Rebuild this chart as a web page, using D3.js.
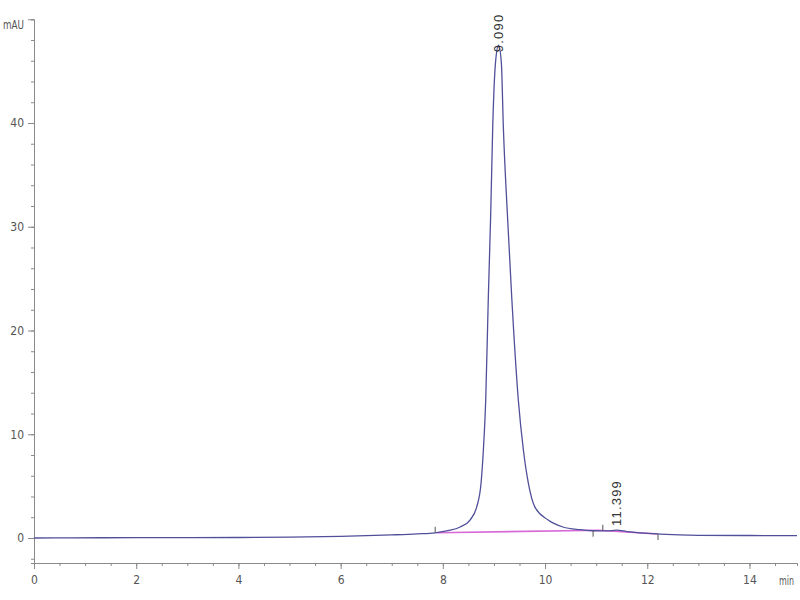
<!DOCTYPE html>
<html>
<head>
<meta charset="utf-8">
<script src="https://cdn.jsdelivr.net/npm/d3@7"></script>
<style>
  html, body { margin: 0; padding: 0; background: #fff; }
  svg { display: block; }
  .ax text { font-family: "Liberation Sans Narrow", "DejaVu Sans Condensed", "Liberation Sans", sans-serif; font-size: 12px; fill: #555; }
  .ax path, .ax line { stroke: #8a8a8a; }
</style>
</head>
<body>
<svg id="chart" width="800" height="600"></svg>
<script>
// ---- data ----
const times = [0.0, 0.7, 2.0, 4.0, 5.0, 6.0, 7.0, 7.5, 7.85, 8.1, 8.34, 8.532, 8.663, 8.748, 8.793, 8.839, 8.89, 8.937, 8.976, 9.03, 9.09, 9.145, 9.184, 9.262, 9.348, 9.477, 9.576, 9.673, 9.80, 10.06, 10.35, 10.68, 10.94, 11.2, 11.4, 11.6, 12.25, 13.0, 14.0, 14.93];
const signal = [0.0, 0.02, 0.03, 0.05, 0.08, 0.15, 0.3, 0.4, 0.5, 0.7, 1.06, 1.73, 3.0, 5.3, 8.48, 13.3, 23.2, 31.3, 39.6, 45.8, 47.5, 45.8, 39.6, 31.3, 23.2, 13.3, 8.48, 5.3, 3.0, 1.73, 1.06, 0.8, 0.7, 0.68, 0.75, 0.62, 0.38, 0.26, 0.24, 0.23];
const baselineTimes = [7.88, 11.05, 12.2];
const baselineValues = [0.5, 0.75, 0.38];
const eventTimes = [7.85, 10.94, 11.13, 12.21];
const eventDirs = [1, -1, 1, -1];
const eventValues = [0.5, 0.7, 0.7, 0.38];
const peakTimes = [9.090, 11.399];
const peakLabels = ["9.090", "11.399"];
const peakLabelValues = [47.5, 1.83];
const xMajorTicks = [0, 2, 4, 6, 8, 10, 12, 14];
const yMajorTicks = [0, 10, 20, 30, 40, 50];
const yTickLabels = ["0", "10", "20", "30", "40", "mAU"];
const xUnit = "min";

// ---- scales ----
const svg = d3.select("#chart");
const x = d3.scaleLinear().domain([0, 14.93]).range([34, 797]);
const y = d3.scaleLinear().domain([-2.41, 50]).range([563, 19.25]);

// ---- axes ----
const xMinor = d3.range(0, 14.93, 0.5);
const yMinor = d3.range(-2, 50.01, 2);

svg.append("g").attr("class", "ax").attr("transform", `translate(0,${y(-2.41)})`)
  .call(d3.axisBottom(x).tickValues(xMinor).tickSize(3).tickFormat(""));
svg.append("g").attr("class", "ax").attr("transform", `translate(0,${y(-2.41)})`)
  .call(d3.axisBottom(x).tickValues(xMajorTicks).tickSize(6).tickSizeOuter(0).tickPadding(4).tickFormat(d3.format("d")))
  .call(g => g.selectAll("text").attr("dy", "0.95em"));

svg.append("g").attr("class", "ax").attr("transform", `translate(${x(0)},0)`)
  .call(d3.axisLeft(y).tickValues(yMinor).tickSize(3).tickFormat(""));
svg.append("g").attr("class", "ax").attr("transform", `translate(${x(0)},0)`)
  .call(d3.axisLeft(y).tickValues(yMajorTicks).tickSize(6).tickSizeOuter(0).tickPadding(4)
    .tickFormat((d, i) => yTickLabels[i]))
  .call(g => g.selectAll("text").filter(d => d === 50)
    .attr("dy", "0.8em").attr("textLength", 21).attr("lengthAdjust", "spacingAndGlyphs"));

// x unit label at right edge
svg.append("text")
  .attr("x", 779).attr("y", y(-2.41) + 22)
  .attr("font-family", "DejaVu Sans Condensed, sans-serif")
  .attr("font-size", 12).attr("fill", "#555")
  .attr("textLength", 15).attr("lengthAdjust", "spacingAndGlyphs")
  .text(xUnit);

// ---- baseline (integration) ----
const blData = baselineTimes.map((t, i) => [t, baselineValues[i]]);
svg.append("path")
  .datum(blData)
  .attr("fill", "none")
  .attr("stroke", "#d86ad8")
  .attr("stroke-width", 1.6)
  .attr("d", d3.line().x(d => x(d[0])).y(d => y(d[1])));

// ---- signal ----
const sig = times.map((t, i) => [t, signal[i]]);
svg.append("path")
  .datum(sig)
  .attr("fill", "none")
  .attr("stroke", "#50509a")
  .attr("stroke-width", 1.3)
  .attr("d", d3.line().curve(d3.curveMonotoneX).x(d => x(d[0])).y(d => y(d[1])));

// ---- integration event marks ----
eventTimes.forEach((t, i) => {
  const ex = x(t), ey = y(eventValues[i]);
  svg.append("line")
    .attr("x1", ex).attr("x2", ex)
    .attr("y1", ey).attr("y2", ey - 6 * eventDirs[i])
    .attr("stroke", "#555").attr("stroke-width", 1);
});

// ---- peak labels ----
peakTimes.forEach((t, i) => {
  const px = x(t), py = y(peakLabelValues[i]) + 7;
  svg.append("text")
    .attr("transform", `translate(${px + 4.5},${py}) rotate(-90)`)
    .attr("font-family", "Liberation Sans, DejaVu Sans, sans-serif")
    .attr("font-size", 13)
    .attr("letter-spacing", 1.2)
    .attr("fill", "#333")
    .text(peakLabels[i]);
});
</script>
</body>
</html>
